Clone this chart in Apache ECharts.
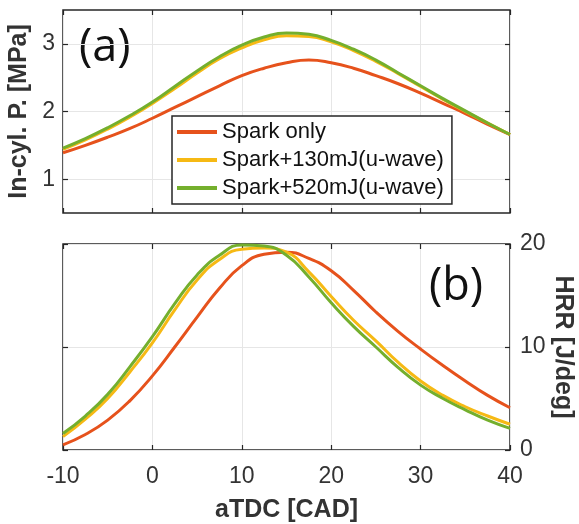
<!DOCTYPE html>
<html>
<head>
    <meta charset="utf-8">
    <script src="https://cdn.jsdelivr.net/npm/echarts@6/dist/echarts.min.js"></script>
</head>
<body style="margin:0">
<div id="main" style="width:579px;height:524px"></div>
<script type="text/javascript">
    // crank angle samples (aTDC, CAD)
    var crank = [-10, -7.5, -5, -2.5, 0, 2.5, 5, 7.5, 10, 12.5, 15, 17.5, 20, 22.5, 25, 27.5, 30, 32.5, 35, 37.5, 40];
    var seriesNames = ['Spark only', 'Spark+130mJ(u-wave)', 'Spark+520mJ(u-wave)'];

    // (a) in-cylinder pressure [MPa]
    var pSpark = [1.39, 1.50, 1.62, 1.75, 1.90, 2.06, 2.22, 2.38, 2.53, 2.64, 2.72, 2.76, 2.72, 2.64, 2.53, 2.41, 2.27, 2.12, 1.97, 1.81, 1.66];
    var p130 = [1.44, 1.58, 1.74, 1.92, 2.12, 2.34, 2.57, 2.78, 2.94, 3.06, 3.12, 3.11, 3.03, 2.90, 2.74, 2.56, 2.37, 2.18, 2.00, 1.83, 1.66];
    var p520 = [1.46, 1.60, 1.76, 1.94, 2.14, 2.37, 2.60, 2.81, 2.98, 3.10, 3.16, 3.14, 3.05, 2.92, 2.76, 2.57, 2.38, 2.19, 2.01, 1.83, 1.66];

    // (b) heat release rate [J/deg]
    var hSpark = [0.5, 1.5, 2.9, 4.8, 7.2, 10.0, 12.9, 15.7, 17.9, 19.0, 19.2, 18.6, 17.4, 15.5, 13.4, 11.5, 9.8, 8.2, 6.7, 5.3, 4.1];
    var h130 = [1.3, 3.0, 5.0, 7.6, 10.4, 13.6, 16.5, 18.5, 19.5, 19.6, 19.2, 17.3, 14.9, 12.6, 10.6, 8.5, 6.7, 5.3, 4.2, 3.3, 2.5];
    var h520 = [1.6, 3.3, 5.4, 8.1, 11.0, 14.2, 17.0, 18.9, 19.9, 19.8, 18.9, 16.8, 14.3, 12.0, 10.0, 8.0, 6.3, 5.0, 3.9, 2.9, 2.1];

    var pTicks = [1, 2, 3];

    var colors = ['#E6521C', '#F6B914', '#74AF2D'];
    var frame = '#262626';
    var font = 'Liberation Sans, Arial, sans-serif';

    function pairs(ys) {
        return crank.map(function (x, i) { return [x, ys[i]]; });
    }

    function ticks(extra) {
        return Object.assign({ show: true, inside: true, length: 5, lineStyle: { color: frame, width: 1.2 } }, extra || {});
    }

    function xAx(grid, pos, labels) {
        return {
            type: 'value', gridIndex: grid, position: pos, min: -10, max: 40, interval: 10,
            axisLine: { show: false, onZero: false },
            axisTick: ticks(),
            axisLabel: { show: labels, color: '#333', fontSize: 23, fontFamily: font, margin: 15 },
            splitLine: { show: pos === 'bottom', lineStyle: { color: '#e6e6e6', width: 1 } }
        };
    }

    var nameStyle = { fontSize: 25, fontWeight: 'bold', fontFamily: font, color: '#333' };

    var myChart = echarts.init(document.getElementById('main'));

    var option = {
        animation: false,
        backgroundColor: '#fff',
        color: colors,
        grid: [
            { left: 63, right: 69, top: 10, height: 203, outerBoundsMode: 'none', containLabel: false,
              show: true, borderColor: frame, borderWidth: 1.5, backgroundColor: 'transparent' },
            { left: 63, right: 69, top: 244, height: 206, outerBoundsMode: 'none', containLabel: false,
              show: true, borderColor: frame, borderWidth: 1.5, backgroundColor: 'transparent' }
        ],
        legend: {
            data: seriesNames,
            orient: 'vertical',
            left: 172, top: 116,
            itemWidth: 40, itemHeight: 4,
            itemGap: 6,
            icon: 'rect',
            padding: [5, 8, 5, 5],
            backgroundColor: '#fff',
            borderColor: frame,
            borderWidth: 1.5,
            borderRadius: 0,
            textStyle: { fontSize: 22, fontFamily: font, color: '#111' }
        },
        xAxis: [
            xAx(0, 'bottom', false),
            xAx(0, 'top', false),
            Object.assign(xAx(1, 'bottom', true), {
                name: 'aTDC [CAD]', nameLocation: 'middle', nameGap: 48, nameTextStyle: nameStyle
            }),
            xAx(1, 'top', false)
        ],
        yAxis: [
            {
                type: 'value', gridIndex: 0, position: 'left', min: 0.5, max: 3.5,
                name: 'In-cyl. P. [MPa]', nameLocation: 'middle', nameGap: 27, nameTextStyle: nameStyle,
                axisLine: { show: false, onZero: false },
                axisTick: ticks({ customValues: pTicks }),
                axisLabel: { customValues: pTicks, color: '#333', fontSize: 23, fontFamily: font, margin: 8 },
                splitLine: { show: true, lineStyle: { color: '#e6e6e6', width: 1 } }
            },
            {
                type: 'value', gridIndex: 0, position: 'right', min: 0.5, max: 3.5,
                axisLine: { show: false, onZero: false },
                axisTick: ticks({ customValues: pTicks }),
                axisLabel: { show: false },
                splitLine: { show: false }
            },
            {
                type: 'value', gridIndex: 1, position: 'left', min: 0, max: 20, interval: 10,
                axisLine: { show: false, onZero: false },
                axisTick: ticks(),
                axisLabel: { show: false },
                splitLine: { show: true, lineStyle: { color: '#e6e6e6', width: 1 } }
            },
            {
                type: 'value', gridIndex: 1, position: 'right', min: 0, max: 20, interval: 10,
                name: 'HRR [J/deg]', nameLocation: 'middle', nameGap: 40, nameRotate: -90,
                nameMoveOverlap: false, nameTextStyle: nameStyle,
                axisLine: { show: false, onZero: false },
                axisTick: ticks(),
                axisLabel: { color: '#333', fontSize: 23, fontFamily: font, margin: 10 },
                splitLine: { show: false }
            }
        ],
        graphic: [
            { type: 'text', left: 79, top: 26, style: { text: '(a)', font: '45px "Open Sans", sans-serif', fill: '#111' } },
            { type: 'text', left: 429, top: 265, style: { text: '(b)', font: '45px "Open Sans", sans-serif', fill: '#111' } }
        ],
        series: []
    };

    var pData = [pSpark, p130, p520];
    var hData = [hSpark, h130, h520];
    seriesNames.forEach(function (name, i) {
        option.series.push({
            name: name, type: 'line', xAxisIndex: 0, yAxisIndex: 0,
            data: pairs(pData[i]), smooth: 0.5, showSymbol: false,
            lineStyle: { width: 3, color: colors[i] }, itemStyle: { color: colors[i] }, z: 2 + i
        });
    });
    seriesNames.forEach(function (name, i) {
        option.series.push({
            name: name, type: 'line', xAxisIndex: 2, yAxisIndex: 2,
            data: pairs(hData[i]), smooth: 0.5, showSymbol: false,
            lineStyle: { width: 3, color: colors[i] }, itemStyle: { color: colors[i] }, z: 2 + i
        });
    });

    myChart.setOption(option);
</script>
</body>
</html>
